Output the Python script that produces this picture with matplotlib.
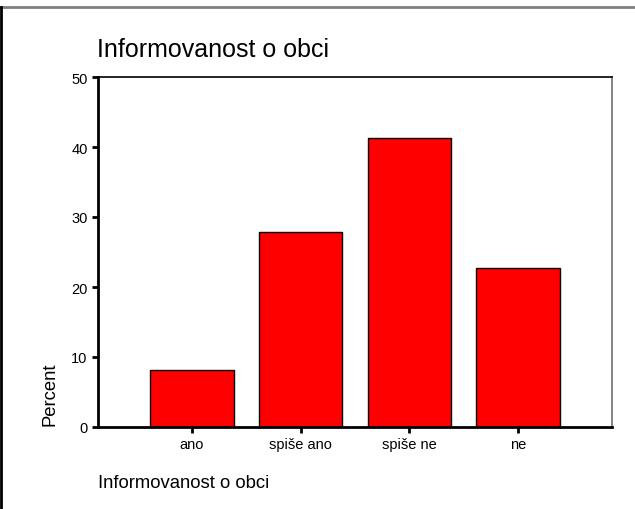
import matplotlib
matplotlib.use("Agg")
import matplotlib.pyplot as plt
from matplotlib.lines import Line2D

categories = ["ano", "spiše ano", "spiše ne", "ne"]
percent = [8.1, 27.9, 41.3, 22.7]
y_ticks = [0, 10, 20, 30, 40, 50]

plt.rcParams["font.family"] = ["Liberation Sans", "DejaVu Sans"]

fig = plt.figure(figsize=(6.35, 5.10), dpi=100)
ax = fig.add_axes([98 / 635, 82 / 510, 514 / 635, 350 / 510])

x = list(range(len(categories)))
ax.bar(x, percent, width=0.77, color="#ff0000", edgecolor="black", linewidth=1)

ax.set_xlim(-0.86, 3.86)
ax.set_ylim(0, 50)
ax.set_xticks(x)
ax.set_xticklabels(categories)
ax.set_yticks(y_ticks)
ax.tick_params(axis="both", direction="out", length=4, width=2, labelsize=10.5,
               color="black", pad=3.5)

for side in ("left", "bottom"):
    ax.spines[side].set_linewidth(2)
    ax.spines[side].set_color("black")
ax.spines["top"].set_linewidth(1.2)
ax.spines["top"].set_color("black")
ax.spines["right"].set_linewidth(1.2)
ax.spines["right"].set_color("#707070")

ax.set_ylabel("Percent", fontsize=13.3, loc="bottom")
ax.yaxis.set_label_coords(-0.077, 0.005)
ax.set_xlabel("Informovanost o obci", fontsize=13.3, loc="left", va="top")
ax.xaxis.set_label_coords(0, -0.135)

fig.text(97 / 635, (510 - 57) / 510, "Informovanost o obci", fontsize=18,
         ha="left", va="baseline")

# outer frame of the exported chart
fig.add_artist(Line2D([0, 1], [502 / 510, 502 / 510], color="#808080", linewidth=2))
fig.add_artist(Line2D([1 / 635, 1 / 635], [0, 502 / 510], color="black", linewidth=2))

fig.savefig("out.png", dpi=100)
